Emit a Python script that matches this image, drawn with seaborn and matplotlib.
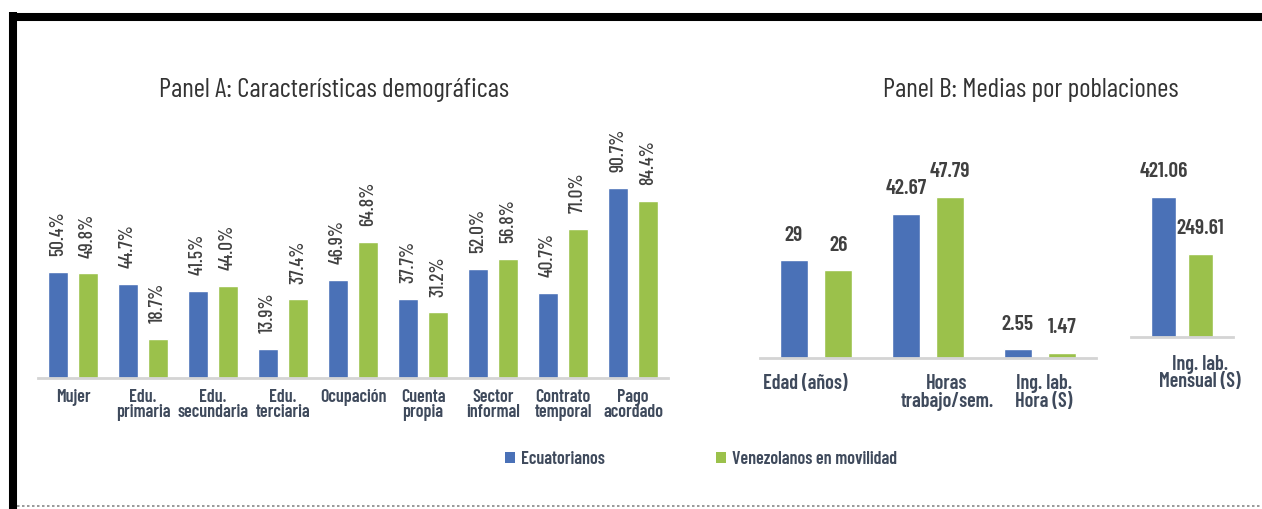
import numpy as np
import pandas as pd
import matplotlib
matplotlib.use("Agg")
import matplotlib.pyplot as plt
import matplotlib.transforms as mtransforms
import seaborn as sns
from matplotlib.lines import Line2D
from matplotlib.patches import Patch

# ---------------- data ----------------
series = ["Ecuatorianos", "Venezolanos en movilidad"]

cats_a = ["Mujer", "Edu.\nprimaria", "Edu.\nsecundaria", "Edu.\nterciaria", "Ocupación",
          "Cuenta\npropia", "Sector\ninformal", "Contrato\ntemporal", "Pago\nacordado"]
ecu_a = [50.4, 44.7, 41.5, 13.9, 46.9, 37.7, 52.0, 40.7, 90.7]
ven_a = [49.8, 18.7, 44.0, 37.4, 64.8, 31.2, 56.8, 71.0, 84.4]

cats_b = ["Edad (años)", "Horas\ntrabajo/sem.", "Ing. lab.\nHora (S)"]
ecu_b = [29, 42.67, 2.55]
ven_b = [26, 47.79, 1.47]

cats_c = ["Ing. lab.\nMensual (S)"]
ecu_c = [421.06]
ven_c = [249.61]

title_a = "Panel A: Características demográficas"
title_b = "Panel B: Medias por poblaciones"

# ---------------- style ----------------
sns.set_theme(style="white")
FONT = ["Barlow Condensed", "Roboto Condensed", "DejaVu Sans"]
plt.rcParams["font.family"] = FONT
plt.rcParams["font.stretch"] = "condensed"

BLUE = "#4A71B7"
GREEN = "#9BC14B"
TXT = "#404040"
CAT = "#3F4A5C"
palette = [BLUE, GREEN]

W, H = 1262, 510
fig = plt.figure(figsize=(W / 100, H / 100), dpi=100)


def long_df(cats, e, v):
    n = len(cats)
    return pd.DataFrame({"cat": list(cats) * 2,
                         "val": list(e) + list(v),
                         "grupo": [series[0]] * n + [series[1]] * n})


def make_ax(left, right, bottom, top, ymax):
    ax = fig.add_axes([left / W, 1 - bottom / H, (right - left) / W, (bottom - top) / H])
    ax.set_ylim(0, ymax)
    return ax


def style_ax(ax, size=13, pad=7, shifts=None):
    for s in ["top", "left", "right"]:
        ax.spines[s].set_visible(False)
    ax.spines["bottom"].set_color("#d4d4d4")
    ax.spines["bottom"].set_linewidth(2)
    ax.set_yticks([])
    ax.set_xlabel("")
    ax.set_ylabel("")
    ax.tick_params(axis="x", length=0, pad=pad, labelsize=size, labelcolor=CAT)
    for i, t in enumerate(ax.get_xticklabels()):
        t.set_linespacing(0.9)
        t.set_fontweight("semibold")
        if shifts is not None:
            off = mtransforms.ScaledTranslation(shifts[i] / 100, 0, fig.dpi_scale_trans)
            t.set_transform(t.get_transform() + off)


# Panel A
ax_a = make_ax(38, 668, 379, 139.6, 114)
sns.barplot(data=long_df(cats_a, ecu_a, ven_a), x="cat", y="val", hue="grupo",
            palette=palette, width=0.857, gap=0.33, legend=False, ax=ax_a,
            saturation=1)
style_ax(ax_a, 13, pad=7)
ax_a.set_xlim(-0.5, len(cats_a) - 0.5)
for cont, vals in zip(ax_a.containers, [ecu_a, ven_a]):
    ax_a.bar_label(cont, labels=[f"{v:.1f}%" for v in vals], rotation=90,
                   padding=12, fontsize=14, color=TXT, fontweight="medium")

# Panel B
ax_b = make_ax(760, 1096, 359, 150, 62.0)
sns.barplot(data=long_df(cats_b, ecu_b, ven_b), x="cat", y="val", hue="grupo",
            palette=palette, width=0.79, gap=0.36, legend=False, ax=ax_b,
            saturation=1)
style_ax(ax_b, 14.5, pad=11, shifts=[-11, 19, 4])
ax_b.set_xlim(-0.5, len(cats_b) - 0.5)
for cont, vals in zip(ax_b.containers, [ecu_b, ven_b]):
    ax_b.bar_label(cont, labels=[f"{v:g}" for v in vals], padding=12,
                   fontsize=15.5, color=TXT, fontweight="semibold")

# Panel C
ax_c = make_ax(1131, 1233, 338, 150, 564.6)
sns.barplot(data=long_df(cats_c, ecu_c, ven_c), x="cat", y="val", hue="grupo",
            palette=palette, width=0.725, gap=0.33, legend=False, ax=ax_c,
            saturation=1)
style_ax(ax_c, 14.5, pad=12, shifts=[18])
ax_c.set_xlim(-0.5, 0.5)
for cont, vals in zip(ax_c.containers, [ecu_c, ven_c]):
    ax_c.bar_label(cont, labels=[f"{v:g}" for v in vals], padding=12,
                   fontsize=15.5, color=TXT, fontweight="semibold")

# Titles
fig.text(334 / W, 1 - 90 / H, title_a, ha="center", va="center", fontsize=19.5, color="#333333")
fig.text(1031 / W, 1 - 90 / H, title_b, ha="center", va="center", fontsize=19.5, color="#333333")

# Legend
handles = [Patch(facecolor=c, edgecolor="none") for c in palette]
fig.legend(handles, series, loc="center", bbox_to_anchor=(701 / W, 1 - 460 / H),
           ncol=2, frameon=False, handlelength=0.55, handleheight=0.55,
           handletextpad=0.3, columnspacing=6.2,
           prop={"family": FONT, "size": 13, "weight": "semibold"})
for t in fig.legends[0].get_texts():
    t.set_color(CAT)

# Frame decoration
fig.add_artist(Line2D([9 / W, 1], [1 - 17.5 / H] * 2, color="black", lw=5.8,
                      solid_capstyle="butt"))
fig.add_artist(Line2D([13 / W] * 2, [1 - 13 / H, 0], color="black", lw=5.8,
                      solid_capstyle="butt"))
fig.add_artist(Line2D([17 / W, 1], [1 - 507 / H] * 2, color="#888888", lw=1.2,
                      ls=(0, (1.5, 1.5))))

fig.savefig("out.png", dpi=100)
